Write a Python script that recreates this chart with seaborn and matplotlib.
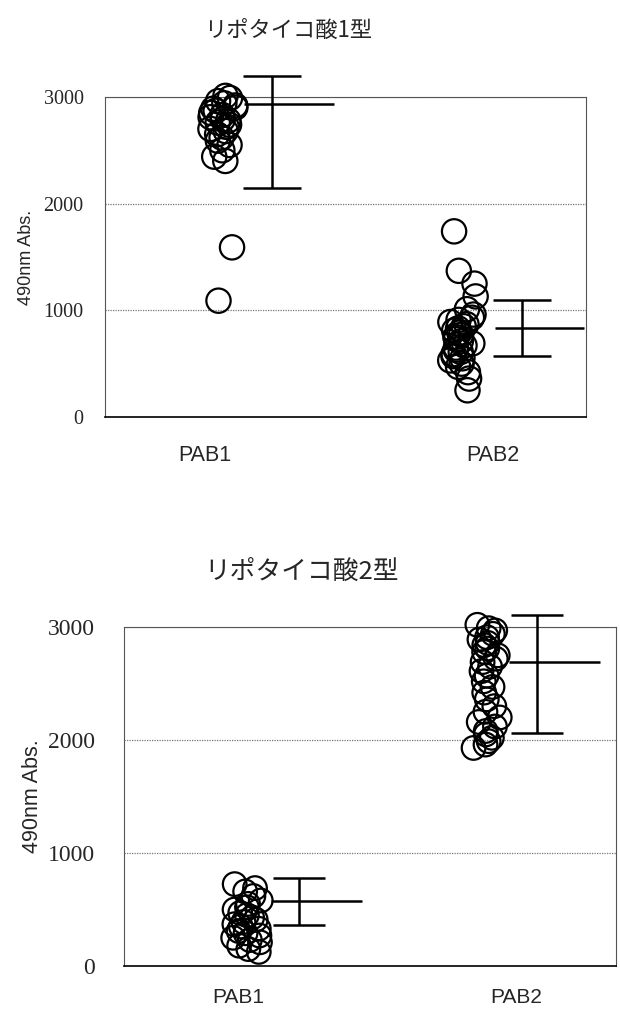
import numpy as np
import pandas as pd
import matplotlib
matplotlib.use("Agg")
import matplotlib.pyplot as plt
import seaborn as sns

# ---- data -------------------------------------------------------------
groups = ["PAB1", "PAB2"]

# Lipoteichoic acid type 1 (490 nm absorbance)
lta1_pab1 = [3010, 2990, 2960, 2940, 2920, 2900, 2890, 2870, 2850, 2830,
             2810, 2790, 2780, 2760, 2740, 2720, 2700, 2680, 2650, 2620,
             2590, 2550, 2500, 2440, 2400, 1590, 1090]
lta1_pab2 = [1740, 1370, 1250, 1130, 1010, 960, 930, 910, 890, 870,
             850, 830, 810, 790, 770, 750, 730, 710, 690, 670,
             650, 630, 610, 590, 570, 550, 530, 500, 470, 420,
             360, 250]
lta1_mean = [2930, 830]
lta1_low = [2150, 570]
lta1_high = [3200, 1100]

# Lipoteichoic acid type 2 (490 nm absorbance)
lta2_pab1 = [725, 690, 660, 620, 580, 550, 520, 500, 470, 450,
             430, 410, 390, 370, 350, 330, 310, 290, 270, 250,
             230, 210, 180, 150, 125]
lta2_pab2 = [3020, 2990, 2970, 2940, 2910, 2890, 2860, 2840, 2810, 2780,
             2750, 2720, 2690, 2650, 2610, 2570, 2520, 2470, 2420, 2360,
             2300, 2250, 2200, 2160, 2120, 2080, 2050, 2020, 1990, 1960,
             1930]
lta2_mean = [580, 2690]
lta2_low = [360, 2060]
lta2_high = [780, 3110]

titles = ["リポタイコ酸1型", "リポタイコ酸2型"]
ylabel = "490nm Abs."
yticks = [0, 1000, 2000, 3000]


def long_form(a, b):
    return pd.DataFrame({
        "group": [groups[0]] * len(a) + [groups[1]] * len(b),
        "value": list(a) + list(b),
    })


sns.set_style("white")
plt.rcParams["font.family"] = ["Liberation Sans", "DejaVu Sans"]

fig = plt.figure(figsize=(6.2, 10.14), dpi=100)

panels = [
    dict(df=long_form(lta1_pab1, lta1_pab2), mean=lta1_mean, low=lta1_low,
         high=lta1_high, rect=[0.1694, 0.5888, 0.7758, 0.3156],
         xlim=(-0.50, 1.521), err_x=[0.20, 1.252], cap=8.5,
         label_x=[-0.08, 1.13], size=17.5, ytick_fs=14.5, ytick_pad=15.5,
         xtick_fs=15.5, xtick_pad=20, ylab_fs=13, ylab_x=-0.146,
         title_xy=(0.465, 0.970), title_fs=16, seed=3),
    dict(df=long_form(lta2_pab1, lta2_pab2), mean=lta2_mean, low=lta2_low,
         high=lta2_high, rect=[0.2000, 0.0473, 0.7935, 0.3343],
         xlim=(-0.51, 1.531), err_x=[0.216, 1.203], cap=7.5,
         label_x=[-0.037, 1.116], size=17, ytick_fs=17, ytick_pad=21,
         xtick_fs=15, xtick_pad=16, ylab_fs=15.5, ylab_x=-0.165,
         title_xy=(0.487, 0.436), title_fs=18.5, seed=7),
]

for i, p in enumerate(panels):
    ax = fig.add_axes(p["rect"])
    np.random.seed(p["seed"])
    sns.stripplot(data=p["df"], x="group", y="value", order=groups,
                  jitter=0.06, size=p["size"], color="black", ax=ax,
                  zorder=3)
    for coll in ax.collections:
        coll.set_facecolor("none")
        coll.set_edgecolor("black")
        coll.set_linewidth(1.6)
        coll.set_clip_on(False)

    # mean line and range bars beside each strip
    mean = np.array(p["mean"])
    yerr = [mean - np.array(p["low"]), np.array(p["high"]) - mean]
    eb = ax.errorbar(p["err_x"], mean, yerr=yerr, fmt="none",
                     ecolor="black", elinewidth=1.8, capsize=p["cap"] * 2.45,
                     capthick=1.8, zorder=4)
    for art in eb.lines[1] + eb.lines[2]:
        art.set_clip_on(False)
    ax.hlines(mean, np.array(p["err_x"]) - 0.115,
              np.array(p["err_x"]) + 0.26, colors="black", linewidth=1.8,
              zorder=4, clip_on=False)

    ax.set_ylim(0, 3000)
    ax.set_xlim(*p["xlim"])
    ax.set_yticks(yticks)
    ax.set_yticklabels([str(t) for t in yticks], family="Liberation Serif",
                       fontsize=p["ytick_fs"])
    ax.set_xticks(p["label_x"])
    ax.set_xticklabels(groups, fontsize=p["xtick_fs"])
    ax.tick_params(axis="y", length=0, pad=p["ytick_pad"])
    ax.tick_params(axis="x", length=0, pad=p["xtick_pad"])
    ax.set_xlabel("")
    ax.set_ylabel(ylabel, fontsize=p["ylab_fs"])
    ax.yaxis.set_label_coords(p["ylab_x"], 0.5)

    ax.yaxis.grid(True, color="#777777", linestyle=(0, (1, 1)),
                  linewidth=0.9)
    ax.xaxis.grid(False)
    ax.set_axisbelow(True)
    for side in ["top", "right", "left"]:
        ax.spines[side].set_color("#555555")
        ax.spines[side].set_linewidth(0.8)
        ax.spines[side].set_visible(True)
    ax.spines["bottom"].set_color("black")
    ax.spines["bottom"].set_linewidth(1.2)
    ax.spines["bottom"].set_visible(True)

    fig.text(*p["title_xy"], titles[i], ha="center", va="center",
             fontsize=p["title_fs"],
             family=["Noto Sans CJK JP", "DejaVu Sans"])

fig.savefig("out.png", dpi=100, facecolor="white")
